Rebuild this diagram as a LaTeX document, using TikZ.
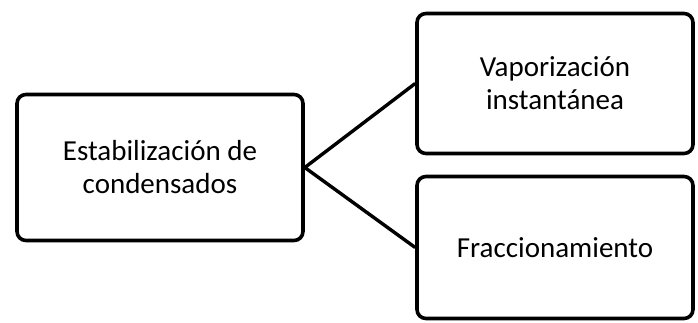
\documentclass[tikz,border=0pt]{standalone}
\usepackage{fontspec}
\setmainfont{Carlito}
\usepackage{tikz}
\usetikzlibrary{positioning}

\begin{document}
\begin{tikzpicture}[
  x=1pt,y=-1pt,
  font=\fontsize{29}{33}\selectfont,
  box/.style={
    draw=black,
    rounded corners=9pt,
    line width=3.6pt,
    align=center,
    fill=white,
    inner sep=0pt
  },
  link/.style={line width=3.4pt,draw=black}
]
\useasboundingbox (0,0) rectangle (698,322);

% 1. Main process
\node[box,minimum width=286pt,minimum height=146pt] (estab) at (160,167.5) {Estabilizaci\'on de\\condensados};

% 2. Alternatives (right)
\node[box,minimum width=276pt,minimum height=140pt] (vapor) at (555,83.5) {Vaporizaci\'on\\instant\'anea};
\node[box,minimum width=276pt,minimum height=142pt] (fracc) at (555,247.5) {Fraccionamiento};

% Connections
\draw[link] (estab.east) -- (vapor.west);
\draw[link] (estab.east) -- (fracc.west);

\end{tikzpicture}
\end{document}
